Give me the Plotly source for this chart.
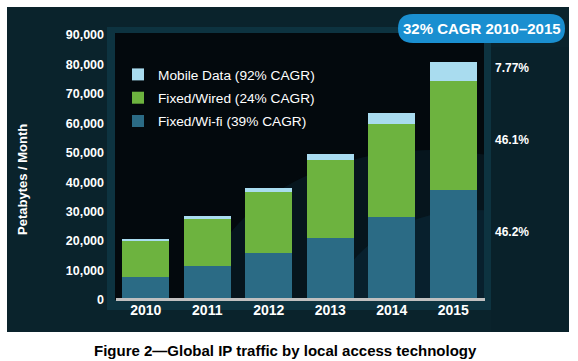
import plotly.graph_objects as go

years = ["2010", "2011", "2012", "2013", "2014", "2015"]
wifi = [7700, 11400, 15900, 21150, 28150, 37500]
wired = [12500, 16200, 20800, 26300, 31550, 36800]
mobile = [250, 800, 1200, 2250, 3850, 6600]
series_names = ["Fixed/Wi-fi (39% CAGR)", "Fixed/Wired (24% CAGR)", "Mobile Data (92% CAGR)"]
share_labels = ["7.77%", "46.1%", "46.2%"]
y_ticks = [0, 10000, 20000, 30000, 40000, 50000, 60000, 70000, 80000, 90000]

W, H = 578, 361
L, R, T, B = 115, 484, 33, 300  # plot area in pixels
YMAX = 90700


def px(x):
    return (x - L) / (R - L)


def py(y):
    return (B - y) / (B - T)


def dx(x):
    return (x - L) / ((R - L) / len(years)) - 0.5


def dy(y):
    return (B - y) / (B - T) * YMAX


font = "Arial, Liberation Sans, sans-serif"
colors = ["#2b6b85", "#6db33f", "#a9dcef"]

fig = go.Figure()
for rank, (name, vals, col) in enumerate(zip(series_names, [wifi, wired, mobile], colors)):
    fig.add_trace(go.Bar(
        x=years, y=vals, name=name, marker=dict(color=col, line=dict(width=0)),
        legendgroup=name, legendrank=3 - rank,
    ))

shapes = [
    dict(type="rect", xref="paper", yref="paper", x0=px(7), x1=px(569), y0=py(332), y1=py(7),
         fillcolor="#0a232c", line=dict(width=0), layer="below"),
    dict(type="rect", xref="paper", yref="paper", x0=px(107), x1=px(491), y0=py(310), y1=py(27),
         fillcolor="#0d3340", line=dict(width=0), layer="below"),
    dict(type="rect", xref="paper", yref="paper", x0=px(491), x1=px(569), y0=py(332), y1=py(47),
         fillcolor="#09212a", line=dict(width=0), layer="below"),
    dict(type="rect", xref="paper", yref="paper", x0=0, x1=1, y0=0, y1=1,
         fillcolor="#03090d", line=dict(width=0), layer="below"),
    # subtle glow, clipped to plot area
    dict(type="circle", xref="x", yref="y", x0=dx(200), x1=dx(660), y0=dy(480), y1=dy(150),
         fillcolor="#0f3a50", opacity=0.25, line=dict(width=0), layer="below"),
    dict(type="circle", xref="x", yref="y", x0=dx(330), x1=dx(620), y0=dy(430), y1=dy(210),
         fillcolor="#145070", opacity=0.2, line=dict(width=0), layer="below"),
    dict(type="line", xref="paper", yref="paper", x0=px(116), x1=px(485), y0=py(299.5), y1=py(299.5),
         line=dict(color="#c0c0c0", width=3), layer="above"),
    dict(type="path", xref="paper", yref="paper",
         path="M {a},{t} L {b},{t} Q {r},{t} {r},{m} Q {r},{bo} {b},{bo} L {a},{bo} Q {l},{bo} {l},{m} Q {l},{t} {a},{t} Z".format(
             a=px(413), b=px(550), l=px(398), r=px(565), t=py(14), bo=py(43), m=py(28.5)),
         fillcolor="#1a8fd0", line=dict(width=0), layer="above"),
]

annotations = [
    dict(text="32% CAGR 2010\u20132015", xref="paper", yref="paper", x=px(482), y=py(29),
         showarrow=False, font=dict(family=font, size=15, color="white", weight="bold"),
         xanchor="center", yanchor="middle"),
    dict(text="Petabytes / Month", xref="paper", yref="paper", x=px(22), y=py(180),
         showarrow=False, textangle=-90, font=dict(family=font, size=13, color="white", weight="bold"),
         xanchor="center", yanchor="middle"),
    dict(text="Figure 2\u2014Global IP traffic by local access technology", xref="paper", yref="paper",
         x=px(285), y=py(350), showarrow=False,
         font=dict(family=font, size=15, color="black", weight="bold"),
         xanchor="center", yanchor="middle"),
]
for lab, yy in zip(share_labels, [68, 140, 232]):
    annotations.append(dict(text=lab, xref="paper", yref="paper", x=px(493), y=py(yy), showarrow=False,
                            font=dict(family=font, size=12, color="white", weight="bold"),
                            xanchor="left", yanchor="middle"))

fig.update_layout(
    width=W, height=H,
    margin=dict(l=L, r=W - R, t=T, b=H - B, autoexpand=False),
    paper_bgcolor="white", plot_bgcolor="rgba(0,0,0,0)",
    barmode="stack", bargap=0.235,
    shapes=shapes, annotations=annotations,
    font=dict(family=font, color="white"),
    legend=dict(x=px(118), y=py(59), xanchor="left", yanchor="top", bgcolor="rgba(0,0,0,0)",
                font=dict(family=font, size=13.7, color="white"), tracegroupgap=2.5,
                traceorder="grouped", itemwidth=30),
    xaxis=dict(range=[-0.5, 5.5], autorange=False, showgrid=False, zeroline=False, showline=False,
               ticks="", tickfont=dict(family=font, size=14, color="white", weight="bold")),
    yaxis=dict(range=[0, YMAX], autorange=False, tickvals=y_ticks, tickformat=",d", showgrid=False,
               zeroline=False, showline=False, ticks="", ticklabelstandoff=10,
               tickfont=dict(family=font, size=12.5, color="white", weight="bold")),
)

fig.write_html("out.html", config={"displayModeBar": False},
               post_script="document.body.style.margin='0px';")
